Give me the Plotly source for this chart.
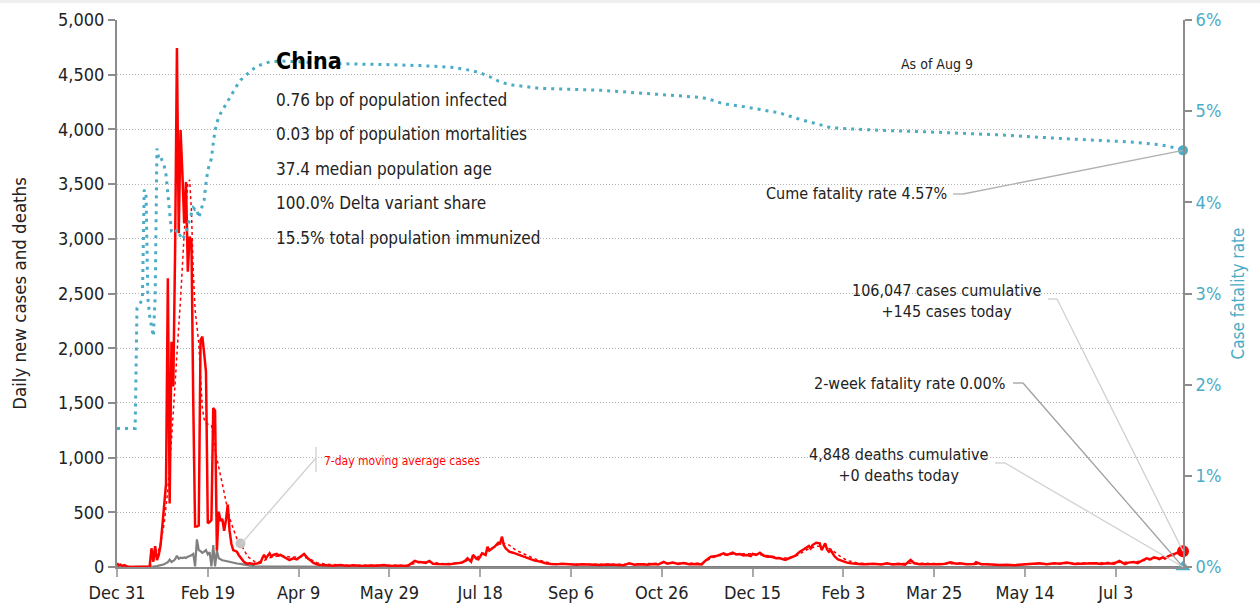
import pandas as pd
import plotly.graph_objects as go

# ---------------- data ----------------
START_DATE = "2019-12-31"
END_DATE = "2021-08-09"

# daily new cases (day offset from START_DATE, value)
case_days = [0, 1, 2, 3, 4, 5, 6, 8, 12, 17, 18, 19, 20, 21, 22, 23, 24, 25, 26, 27,
             28, 29, 30, 31, 32, 33, 34, 35, 36, 37, 38, 39, 40, 41, 42, 43, 44, 45, 46, 47,
             48, 49, 50, 51, 52, 53, 54, 55, 56, 57, 58, 59, 60, 61, 62, 63, 64, 65, 66, 67,
             68, 69, 70, 71, 72, 73, 75, 77, 79, 80, 81, 82, 84, 85, 86, 88, 89, 90, 92, 93,
             95, 97, 99, 101, 103, 104, 105, 107, 108, 110, 112, 115, 119, 123, 127, 130, 135, 140, 143, 147,
             150, 155, 160, 164, 166, 168, 170, 172, 174, 176, 180, 183, 187, 190, 192, 193, 195, 196, 198, 199,
             200, 201, 203, 204, 205, 207, 208, 210, 211, 212, 213, 214, 216, 218, 219, 221, 223, 225, 227, 230,
             233, 236, 239, 242, 245, 248, 250, 253, 256, 260, 263, 266, 270, 275, 279, 282, 285, 288, 292, 295,
             298, 301, 303, 306, 309, 312, 315, 318, 322, 324, 327, 330, 332, 334, 336, 338, 339, 341, 343, 345,
             347, 349, 350, 352, 354, 356, 358, 360, 361, 363, 365, 368, 370, 371, 373, 374, 376, 378, 379, 381,
             382, 383, 385, 387, 388, 390, 391, 392, 393, 395, 397, 400, 402, 404, 407, 410, 413, 416, 418, 421,
             424, 427, 431, 434, 437, 439, 442, 446, 450, 453, 456, 459, 462, 464, 468, 472, 473, 476, 479, 483,
             486, 490, 494, 497, 501, 505, 508, 512, 516, 519, 523, 527, 530, 534, 538, 542, 545, 549, 552, 555,
             557, 560, 562, 565, 567, 569, 571, 573, 574, 576, 577, 579, 581, 583, 585, 587]
case_values = [34, 15, 22, 10, 18, 6, 2, 0, 0, 0, 5, 171, 49, 190, 64, 110, 200, 380, 560, 760,
               2640, 580, 2060, 1650, 2900, 4744, 3050, 3995, 3600, 3140, 3520, 2700, 3020, 2980, 1500, 370, 370, 380, 2075, 2105,
               1950, 1785, 400, 410, 430, 1453, 1430, 150, 506, 420, 440, 330, 430, 570, 330, 210, 155, 150, 140, 110,
               90, 60, 45, 35, 30, 34, 28, 32, 40, 80, 110, 80, 125, 95, 110, 119, 105, 110, 94, 85,
               64, 79, 70, 94, 119, 100, 79, 55, 40, 25, 18, 15, 12, 18, 10, 15, 10, 14, 12, 18,
               10, 12, 9, 55, 45, 43, 38, 55, 30, 27, 24, 24, 34, 40, 60, 79, 49, 110, 75, 70,
               95, 125, 110, 186, 150, 171, 186, 222, 216, 277, 200, 171, 140, 131, 125, 110, 95, 88, 70, 58,
               49, 34, 27, 24, 30, 27, 20, 21, 26, 24, 18, 18, 22, 21, 15, 34, 20, 24, 20, 27,
               22, 46, 30, 40, 28, 37, 25, 27, 24, 58, 94, 100, 115, 125, 110, 120, 131, 115, 119, 105,
               110, 100, 119, 110, 131, 105, 94, 95, 88, 80, 79, 64, 80, 85, 100, 110, 140, 160, 171, 192,
               170, 201, 222, 216, 155, 216, 160, 140, 155, 100, 70, 49, 40, 34, 27, 25, 24, 30, 27, 22,
               34, 24, 27, 22, 64, 34, 25, 24, 26, 24, 30, 43, 30, 34, 25, 27, 43, 25, 24, 20,
               18, 20, 15, 20, 24, 28, 34, 26, 34, 30, 40, 28, 30, 26, 34, 28, 34, 30, 55, 27,
               40, 46, 35, 64, 79, 70, 88, 80, 73, 90, 76, 100, 110, 125, 140, 145]

# 7-day moving average of cases
ma_days = [18, 20, 22, 24, 26, 28, 30, 31, 32, 33, 34, 35, 36, 37, 38, 39, 40, 41, 42, 43,
           44, 45, 46, 47, 48, 49, 51, 52, 54, 56, 58, 60, 62, 64, 66, 68, 70, 72, 76, 80,
           84, 90, 96, 102, 106, 110, 115, 130, 160, 166, 172, 180, 188, 193, 198, 203, 208, 212, 216, 220,
           225, 230, 235, 240, 250, 280, 300, 315, 322, 326, 330, 340, 350, 358, 365, 370, 375, 380, 385, 390,
           394, 398, 402, 408, 420, 440, 460, 490, 520, 550, 560, 566, 572, 578, 584, 587]
ma_values = [0, 60, 100, 220, 400, 704, 1160, 1450, 1700, 2000, 2200, 2450, 2800, 3050, 3300, 3500, 3540, 3250, 2700, 2350,
             2200, 2050, 1750, 1450, 1350, 1313, 1300, 1298, 1070, 900, 760, 600, 450, 350, 260, 215, 150, 94, 48, 50,
             85, 105, 90, 95, 75, 40, 25, 15, 15, 40, 45, 30, 35, 60, 85, 140, 190, 220, 200, 150,
             110, 75, 50, 30, 25, 25, 35, 35, 35, 70, 100, 120, 120, 105, 85, 80, 110, 160, 190, 190,
             150, 100, 60, 35, 28, 35, 30, 20, 32, 38, 45, 60, 80, 90, 120, 130]

# daily new deaths
death_days = [0, 18, 20, 22, 24, 26, 27, 28, 29, 30, 31, 32, 33, 34, 35, 36, 37, 38, 39, 40,
              41, 42, 43, 44, 45, 46, 47, 48, 49, 50, 51, 52, 53, 54, 55, 56, 57, 58, 60, 62,
              64, 66, 68, 70, 73, 76, 80, 90, 100, 110, 120, 140, 587]
death_values = [0, 0, 3, 8, 15, 25, 35, 45, 67, 45, 55, 70, 103, 75, 85, 82, 88, 83, 95, 100,
                108, 120, 5, 252, 155, 145, 130, 140, 155, 115, 135, 5, 200, 5, 150, 80, 70, 62, 55, 45,
                40, 32, 28, 20, 12, 8, 6, 4, 3, 2, 1, 0, 0]

# cumulative case fatality rate (%)
cfr_days = [0, 10, 11, 12, 13, 14, 15, 16, 17, 18, 19, 20, 21, 22, 23, 24, 25, 26, 27, 28,
            29, 30, 31, 32, 33, 34, 35, 36, 37, 38, 39, 40, 41, 42, 43, 44, 45, 46, 47, 48,
            49, 50, 51, 52, 53, 54, 56, 58, 60, 62, 64, 66, 68, 70, 74, 78, 84, 90, 100, 123,
            150, 167, 185, 194, 200, 205, 210, 216, 225, 233, 266, 293, 315, 322, 328, 334, 345, 354, 365, 376,
            385, 393, 400, 420, 450, 486, 520, 541, 560, 575, 582, 587]
cfr_values = [1.52, 1.52, 2.84, 2.87, 2.90, 2.95, 4.14, 4.07, 2.95, 2.75, 2.62, 2.53, 2.95, 4.59, 4.48, 4.50, 4.45, 4.40, 4.30, 4.10,
              3.85, 3.68, 3.66, 3.66, 3.70, 3.66, 3.62, 3.59, 3.63, 3.66, 3.75, 3.82, 3.90, 3.94, 3.92, 3.93, 3.83, 3.90, 3.97, 4.03,
              4.21, 4.35, 4.42, 4.48, 4.65, 4.79, 4.94, 5.01, 5.07, 5.14, 5.21, 5.28, 5.34, 5.38, 5.45, 5.50, 5.54, 5.55, 5.54, 5.52,
              5.51, 5.50, 5.48, 5.45, 5.42, 5.38, 5.33, 5.29, 5.27, 5.25, 5.23, 5.19, 5.16, 5.15, 5.12, 5.08, 5.05, 5.02, 4.98, 4.91,
              4.86, 4.82, 4.81, 4.79, 4.77, 4.74, 4.70, 4.68, 4.66, 4.63, 4.60, 4.57]

# x-axis ticks
tick_dates = ["2019-12-31", "2020-02-19", "2020-04-09", "2020-05-29", "2020-07-18", "2020-09-06",
              "2020-10-26", "2020-12-15", "2021-02-03", "2021-03-25", "2021-05-14", "2021-07-03"]
tick_labels = ["Dec 31", "Feb 19", "Apr 9", "May 29", "Jul 18", "Sep 6",
               "Oct 26", "Dec 15", "Feb 3", "Mar 25", "May 14", "Jul 3"]

# summary figures
country = "China"
info_lines = ["0.76 bp of population infected",
              "0.03 bp of population mortalities",
              "37.4 median population age",
              "100.0% Delta variant share",
              "15.5% total population immunized"]
as_of_label = "As of Aug 9"
cases_cumulative = 106047
cases_today = 145
deaths_cumulative = 4848
deaths_today = 0
cfr_cume = 4.57
cfr_two_week = 0.00
ma_callout_day = 68

# ---------------- styling ----------------
RED = "#ff0000"
TEAL = "#4bacc6"
GRAY = "#808080"
AXIS = "#8c8c8c"
FONT = "DejaVu Sans Condensed, DejaVu Sans, sans-serif"
W, H = 1260, 607
ML, MR, MT, MB = 117, 77, 20, 40
PW, PH = W - ML - MR, H - MT - MB

start = pd.Timestamp(START_DATE)
def dates(days):
    return [start + pd.Timedelta(days=int(d)) for d in days]

def px(x):
    return (x - ML) / PW

def py(y):
    return (H - MB - y) / PH

end = pd.Timestamp(END_DATE)

fig = go.Figure()

fig.add_trace(go.Scatter(x=dates(cfr_days), y=cfr_values, yaxis="y2", mode="lines",
                         line=dict(color=TEAL, width=3, dash="3px,5px"), hoverinfo="skip"))
fig.add_trace(go.Scatter(x=dates(death_days), y=death_values, mode="lines",
                         line=dict(color=GRAY, width=2.2), hoverinfo="skip"))
fig.add_trace(go.Scatter(x=dates(ma_days), y=ma_values, mode="lines",
                         line=dict(color=RED, width=1.5, dash="dot"), hoverinfo="skip"))
fig.add_trace(go.Scatter(x=dates(case_days), y=case_values, mode="lines",
                         line=dict(color=RED, width=2.5), hoverinfo="skip"))

# callout dot on the moving average
ma_y = ma_values[ma_days.index(ma_callout_day)]
fig.add_trace(go.Scatter(x=dates([ma_callout_day]), y=[ma_y], mode="markers",
                         marker=dict(color="#c4c4c4", size=10), hoverinfo="skip"))

# end markers
fig.add_trace(go.Scatter(x=[end], y=[cases_today], mode="markers", cliponaxis=False,
                         marker=dict(color=RED, size=12), hoverinfo="skip"))
fig.add_trace(go.Scatter(x=[end], y=[cfr_cume], yaxis="y2", mode="markers", cliponaxis=False,
                         marker=dict(color=TEAL, size=10), hoverinfo="skip"))
fig.add_trace(go.Scatter(x=[end], y=[cfr_two_week], yaxis="y2", mode="markers", cliponaxis=False,
                         marker=dict(color=TEAL, size=13, symbol="triangle-up"), hoverinfo="skip"))

annotations = []
def text(x, y, s, size, color="#222", xanchor="left", align="left", family=FONT, weight="normal"):
    annotations.append(dict(x=px(x), y=py(y), xref="paper", yref="paper", text=s, showarrow=False,
                            xanchor=xanchor, yanchor="middle", align=align,
                            font=dict(family=family, size=size, color=color, weight=weight)))

text(274, 61, country, 23, color="#000", weight="bold")
for i, line in enumerate(info_lines):
    text(274, 100 + i * 34.4, line, 17)
text(937, 64, as_of_label, 14, xanchor="center")
text(949, 194, f"Cume fatality rate {cfr_cume:.2f}%", 16, xanchor="right")
text(946, 301, f"{cases_cumulative:,} cases cumulative<br>+{cases_today} cases today", 16,
     xanchor="center", align="center")
text(1007, 383, f"2-week fatality rate {cfr_two_week:.2f}%", 16, xanchor="right")
text(899, 465, f"{deaths_cumulative:,} deaths cumulative<br>+{deaths_today} deaths today", 16,
     xanchor="center", align="center")
text(322, 461, "7-day moving average cases", 12, color=RED)

# connector lines (elbow to data end points)
end_cfr_y = H - MB - cfr_cume / 6 * PH
end_case_y = H - MB - cases_today / 5000 * PH
base_y = H - MB
shapes = []
def seg(x0, y0, x1, y1, color, width=1.3):
    shapes.append(dict(type="line", xref="paper", yref="paper", x0=px(x0), y0=py(y0),
                       x1=px(x1), y1=py(y1), line=dict(color=color, width=width)))

seg(953, 194, 963, 194, "#b0b0b0")
seg(963, 194, W - MR, end_cfr_y, "#b0b0b0")
seg(1048, 299, 1057, 299, "#d0d0d0")
seg(1057, 299, W - MR, end_case_y, "#d0d0d0")
seg(1013, 383, 1023, 383, "#a0a0a0")
seg(1023, 383, W - MR, base_y, "#a0a0a0")
seg(995, 463, 1005, 463, "#d0d0d0")
seg(1005, 463, W - MR, base_y, "#d0d0d0")
seg(316, 447, 316, 472, "#d0d0d0")
seg(316, 458, 241, 544, "#d0d0d0")
# top page strip
shapes.append(dict(type="rect", xref="paper", yref="paper", x0=px(0), x1=px(W), y0=py(3), y1=py(0),
                   fillcolor="#efefef", line=dict(width=0), layer="below"))

fig.update_layout(
    width=W, height=H,
    margin=dict(l=ML, r=MR, t=MT, b=MB, autoexpand=False),
    paper_bgcolor="white", plot_bgcolor="white",
    showlegend=False,
    font=dict(family=FONT, size=18, color="#222"),
    annotations=annotations,
    shapes=shapes,
    xaxis=dict(type="date", range=[start, end], tickvals=pd.to_datetime(tick_dates), ticktext=tick_labels,
               showgrid=False, showline=True, linecolor=AXIS, linewidth=2, automargin=False,
               ticks="outside", ticklen=8, tickwidth=2, tickcolor="#aaaaaa",
               tickfont=dict(size=18, color="#222"), zeroline=False),
    yaxis=dict(range=[0, 5000], dtick=500, tickformat=",", showgrid=True, gridcolor="#b4b4b4",
               griddash="1px,2px", gridwidth=1, showline=True, linecolor=AXIS, linewidth=2, automargin=False,
               ticks="outside", ticklen=7, tickwidth=2, tickcolor=AXIS, zeroline=False,
               tickfont=dict(size=18, color="#222"),
               title=dict(text="Daily new cases and deaths", font=dict(size=18.5, color="#222"), standoff=27)),
    yaxis2=dict(range=[0, 6], dtick=1, ticksuffix="%", overlaying="y", side="right", automargin=False,
                showgrid=False, showline=True, linecolor=AXIS, linewidth=2, zeroline=False,
                ticks="outside", ticklen=7, tickwidth=2, tickcolor=AXIS,
                tickfont=dict(size=18, color=TEAL),
                title=dict(text="Case fatality rate", font=dict(size=17, color=TEAL), standoff=12)),
)

fig.write_html("out.html", config={"displayModeBar": False},
               post_script="document.body.style.margin='0';")
